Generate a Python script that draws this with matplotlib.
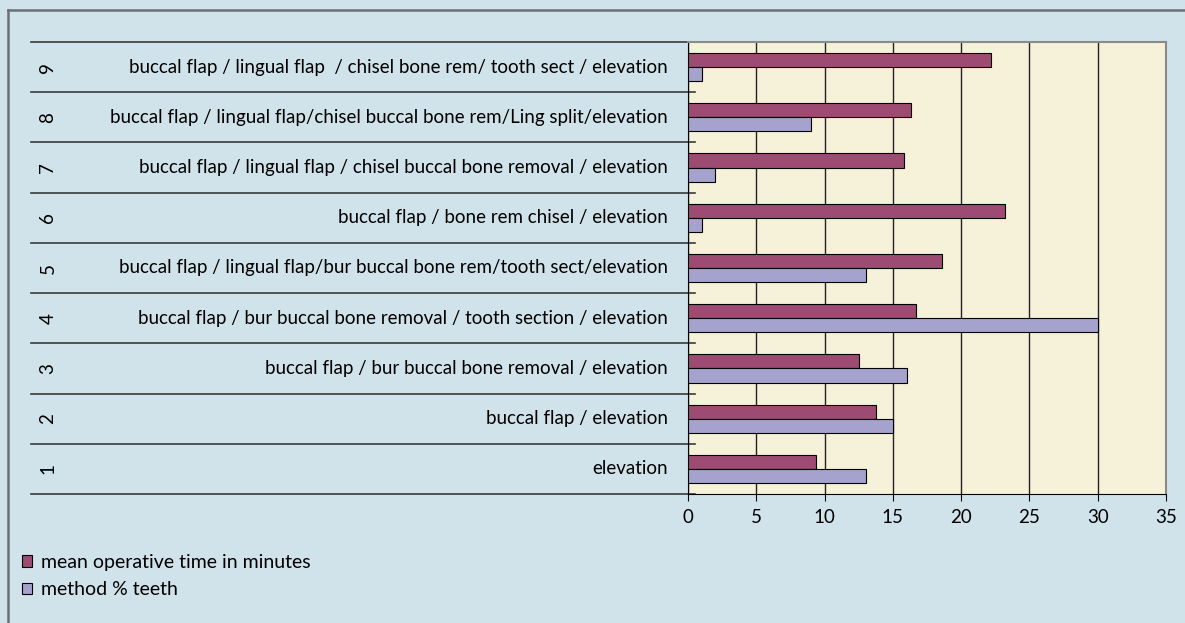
import matplotlib.pyplot as plt
import matplotlib.transforms as mtransforms
from matplotlib.patches import Patch
from matplotlib.lines import Line2D

plt.rcParams['font.family'] = ['Lato', 'DejaVu Sans']

numbers = ['1', '2', '3', '4', '5', '6', '7', '8', '9']
methods = [
    'elevation',
    'buccal flap / elevation',
    'buccal flap / bur buccal bone removal / elevation',
    'buccal flap / bur buccal bone removal / tooth section / elevation',
    'buccal flap / lingual flap/bur buccal bone rem/tooth sect/elevation',
    'buccal flap / bone rem chisel / elevation',
    'buccal flap / lingual flap / chisel buccal bone removal / elevation',
    'buccal flap / lingual flap/chisel buccal bone rem/Ling split/elevation',
    'buccal flap / lingual flap  / chisel bone rem/ tooth sect / elevation',
]
mean_time = [9.4, 13.8, 12.5, 16.7, 18.6, 23.2, 15.8, 16.3, 22.2]
method_pct = [13, 15, 16, 30, 13, 1, 2, 9, 1]
xticks = [0, 5, 10, 15, 20, 25, 30, 35]

bg = '#d1e3ea'
plot_bg = '#f6f1d9'
red = '#9e4b74'
blue = '#a5a2ce'

W, H = 1185, 623
fig = plt.figure(figsize=(W / 100, H / 100), dpi=100, facecolor=bg)

# outer frame (top and left edges visible)
fig.add_artist(Line2D([8 / W, 8 / W], [0, 1 - 10 / H], color='#6b7077', lw=1.8))
fig.add_artist(Line2D([8 / W, 1], [1 - 10 / H, 1 - 10 / H], color='#6b7077', lw=1.8))

x0, x1, ytop, ybot = 688, 1166, 42, 494
ax = fig.add_axes([x0 / W, 1 - ybot / H, (x1 - x0) / W, (ybot - ytop) / H])
ax.set_facecolor(plot_bg)

y = list(range(len(numbers)))
h = 0.28
ax.barh([v + h / 2 for v in y], mean_time, height=h, color=red, edgecolor='black', lw=0.8, zorder=3,
        label='mean operative time in minutes')
ax.barh([v - h / 2 for v in y], method_pct, height=h, color=blue, edgecolor='black', lw=0.8, zorder=3,
        label='method % teeth')

ax.set_xlim(0, 35)
ax.set_ylim(-0.5, len(numbers) - 0.5)
ax.set_xticks(xticks)
ax.set_xticklabels([str(t) for t in xticks], fontsize=13.5)
ax.xaxis.grid(True, color='#222222', lw=1, zorder=1)
ax.tick_params(axis='x', length=5, direction='out', color='black', pad=6)
ax.set_yticks([])
for s in ['top', 'right']:
    ax.spines[s].set_color('#8a8a8a')
    ax.spines[s].set_linewidth(1.5)
ax.spines['left'].set_color('black')
ax.spines['bottom'].set_color('black')

# left table: separators, numbers and method labels
tr = mtransforms.blended_transform_factory(fig.transFigure, ax.transData)
for b in [v - 0.5 for v in y] + [len(numbers) - 0.5]:
    ax.plot([31 / W, 695 / W], [b, b], color='#3a3a3a', lw=1.2, transform=tr, clip_on=False)
for v, n, m in zip(y, numbers, methods):
    ax.text(48 / W, v, n, rotation=90, ha='center', va='center', fontsize=13.5, transform=tr)
    ax.text(668 / W, v, m, ha='right', va='center', fontsize=13.5, transform=tr)

handles = [Patch(facecolor=red, edgecolor='black', lw=0.8),
           Patch(facecolor=blue, edgecolor='black', lw=0.8)]
fig.legend(handles, ['mean operative time in minutes', 'method % teeth'],
           loc='upper left', bbox_to_anchor=(12 / W, 1 - 544 / H), frameon=False,
           fontsize=14, handlelength=0.55, handleheight=0.55, handletextpad=0.45,
           labelspacing=0.55, borderpad=0)

fig.savefig('out.png', dpi=100, facecolor=bg)
